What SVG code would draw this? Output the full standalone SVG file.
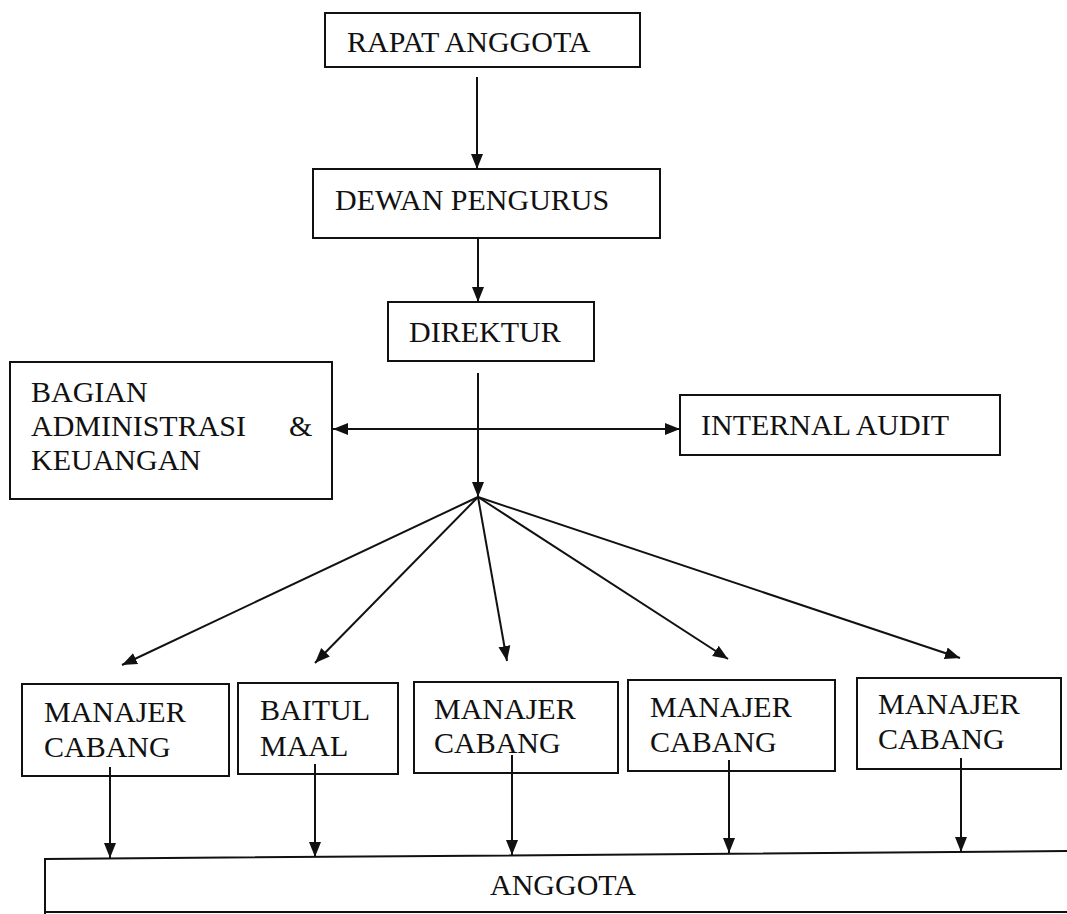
<svg xmlns="http://www.w3.org/2000/svg" width="1067" height="914" viewBox="0 0 1067 914">
<style>
.box{fill:#fff;stroke:#111;stroke-width:2}
.t{font-family:"Liberation Serif","Times New Roman",serif;font-size:30px;fill:#111}
.c{stroke:#111;stroke-width:2;fill:none}
</style>
<defs>
<marker id="ah" markerUnits="userSpaceOnUse" markerWidth="16" markerHeight="14" refX="15" refY="7" orient="auto-start-reverse">
<path d="M0,1 L15,7 L0,13 Z" fill="#111"/>
</marker>
</defs>
<rect width="1067" height="914" fill="#fff"/>
<g id="rapat-anggota">
<rect class="box" x="325" y="13" width="315" height="54"/>
<text class="t" x="347" y="52">RAPAT ANGGOTA</text>
</g>
<g id="dewan-pengurus">
<rect class="box" x="313" y="169" width="347" height="69"/>
<text class="t" x="335" y="210">DEWAN PENGURUS</text>
</g>
<g id="direktur">
<rect class="box" x="388" y="302" width="206" height="59"/>
<text class="t" x="409" y="342">DIREKTUR</text>
</g>
<g id="bagian-admin">
<rect class="box" x="10" y="362" width="322" height="137"/>
<text class="t" x="31" y="402">BAGIAN</text>
<text class="t" x="31" y="436">ADMINISTRASI</text>
<text class="t" x="289" y="436">&amp;</text>
<text class="t" x="31" y="470">KEUANGAN</text>
</g>
<g id="internal-audit">
<rect class="box" x="680" y="395" width="320" height="60"/>
<text class="t" x="701" y="435">INTERNAL AUDIT</text>
</g>
<g id="manajer-cabang-1">
<rect class="box" x="22" y="684" width="207" height="92"/>
<text class="t" x="44" y="722">MANAJER</text>
<text class="t" x="44" y="757">CABANG</text>
</g>
<g id="baitul-maal">
<rect class="box" x="238" y="683" width="160" height="91"/>
<text class="t" x="260" y="720">BAITUL</text>
<text class="t" x="260" y="756">MAAL</text>
</g>
<g id="manajer-cabang-2">
<rect class="box" x="414" y="682" width="204" height="91"/>
<text class="t" x="434" y="719">MANAJER</text>
<text class="t" x="434" y="753">CABANG</text>
</g>
<g id="manajer-cabang-3">
<rect class="box" x="628" y="680" width="207" height="91"/>
<text class="t" x="650" y="717">MANAJER</text>
<text class="t" x="650" y="752">CABANG</text>
</g>
<g id="manajer-cabang-4">
<rect class="box" x="857" y="678" width="204" height="91"/>
<text class="t" x="878" y="714">MANAJER</text>
<text class="t" x="878" y="749">CABANG</text>
</g>
<g id="anggota">
<path class="box" d="M45,916 L45,859 L1072,851 L1072,912 L45,912"/>
<text class="t" x="490" y="895">ANGGOTA</text>
</g>
<g id="connectors">
<line class="c" x1="477" y1="77" x2="477" y2="169" marker-end="url(#ah)"/>
<line class="c" x1="478" y1="238" x2="478" y2="302" marker-end="url(#ah)"/>
<line class="c" x1="478" y1="373" x2="478" y2="497" marker-end="url(#ah)"/>
<line class="c" x1="333" y1="429" x2="680" y2="429" marker-start="url(#ah)" marker-end="url(#ah)"/>
<line class="c" x1="478" y1="497" x2="122" y2="665" marker-end="url(#ah)"/>
<line class="c" x1="478" y1="497" x2="315" y2="663" marker-end="url(#ah)"/>
<line class="c" x1="478" y1="497" x2="507" y2="661" marker-end="url(#ah)"/>
<line class="c" x1="478" y1="497" x2="728" y2="659" marker-end="url(#ah)"/>
<line class="c" x1="478" y1="497" x2="960" y2="658" marker-end="url(#ah)"/>
<line class="c" x1="110" y1="767" x2="110" y2="858" marker-end="url(#ah)"/>
<line class="c" x1="315" y1="764" x2="315" y2="857" marker-end="url(#ah)"/>
<line class="c" x1="512" y1="755" x2="512" y2="855" marker-end="url(#ah)"/>
<line class="c" x1="729" y1="760" x2="729" y2="853" marker-end="url(#ah)"/>
<line class="c" x1="961" y1="758" x2="961" y2="852" marker-end="url(#ah)"/>
</g>
</svg>
